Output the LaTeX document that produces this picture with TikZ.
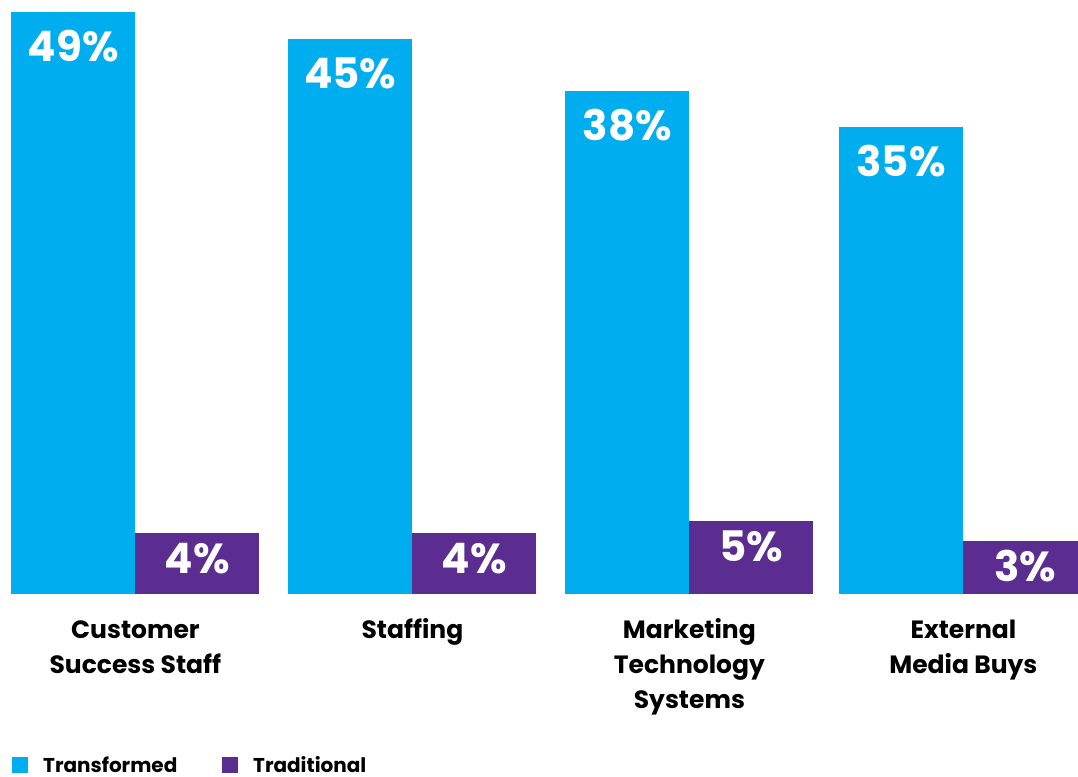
\documentclass[tikz,border=0pt]{standalone}
\usepackage{fontspec}
\setmainfont{Poppins}
\definecolor{transformed}{HTML}{00AEEF}
\definecolor{traditional}{HTML}{5C2D91}

\tikzset{%
  every bar/.style={
    anchor=south west,
    inner sep=0pt,
    minimum width=124pt
  },
  bar transformed/.style={fill=transformed},
  bar traditional/.style={fill=traditional},
  value label/.style={
    anchor=base,
    text=white,
    font=\fontsize{42}{42}\selectfont\bfseries
  },
  group label/.style={
    anchor=base,
    inner sep=0pt,
    align=center,
    font=\fontsize{25}{35}\selectfont\bfseries
  },
  legend box/.style={
    fill=#1,
    minimum size=16pt,
    inner sep=0pt,
    anchor=north west
  },
  legend text/.style={
    anchor=base west,
    inner sep=0pt,
    text depth=0pt,
    font=\fontsize{20}{20}\selectfont\bfseries
  },
}

\begin{document}
\begin{tikzpicture}[x=1pt, y=-1pt]
\useasboundingbox (0,0) rectangle (1078,776);
\clip (0,0) rectangle (1078,776);

\foreach \x/\t/\v [count=\i] in {11/12/49, 288/39/45, 565/91/38, 839/127/35} {
  \pgfmathsetmacro\h{594-\t}
  \node [every bar, bar transformed, minimum height=\h pt] (transformed-\i) at (\x,594) {};
  \node [value label] (value-transformed-\i) at ([yshift=-50pt]transformed-\i.north) {\v\%};
}

\foreach \x/\t/\v [count=\i] in {135/533/4, 412/533/4, 689/521/5, 963/541/3} {
  \pgfmathsetmacro\h{594-\t}
  \node [every bar, bar traditional, minimum height=\h pt] (traditional-\i) at (\x,594) {};
  \node [value label] (value-traditional-\i) at ([yshift=-41pt]traditional-\i.north) {\v\%};
}

% base anchor sits on the last line, so shift by the number of lines
\foreach \l/\n [count=\i] in {Customer\\Success Staff/2, Staffing/1, Marketing\\Technology\\Systems/3, External\\Media Buys/2} {
  \pgfmathsetmacro\b{603+35*\n}
  \node [group label] (group-\i) at (transformed-\i.south east |- 0,\b) {\l};
}

\node [legend box=transformed] (key-transformed) at (12,757) {};
\node [legend text] (key-transformed-text) at (43,772) {Transformed};
\node [legend box=traditional] (key-traditional) at (222,757) {};
\node [legend text] (key-traditional-text) at (253,772) {Traditional};

\end{tikzpicture}
\end{document}
